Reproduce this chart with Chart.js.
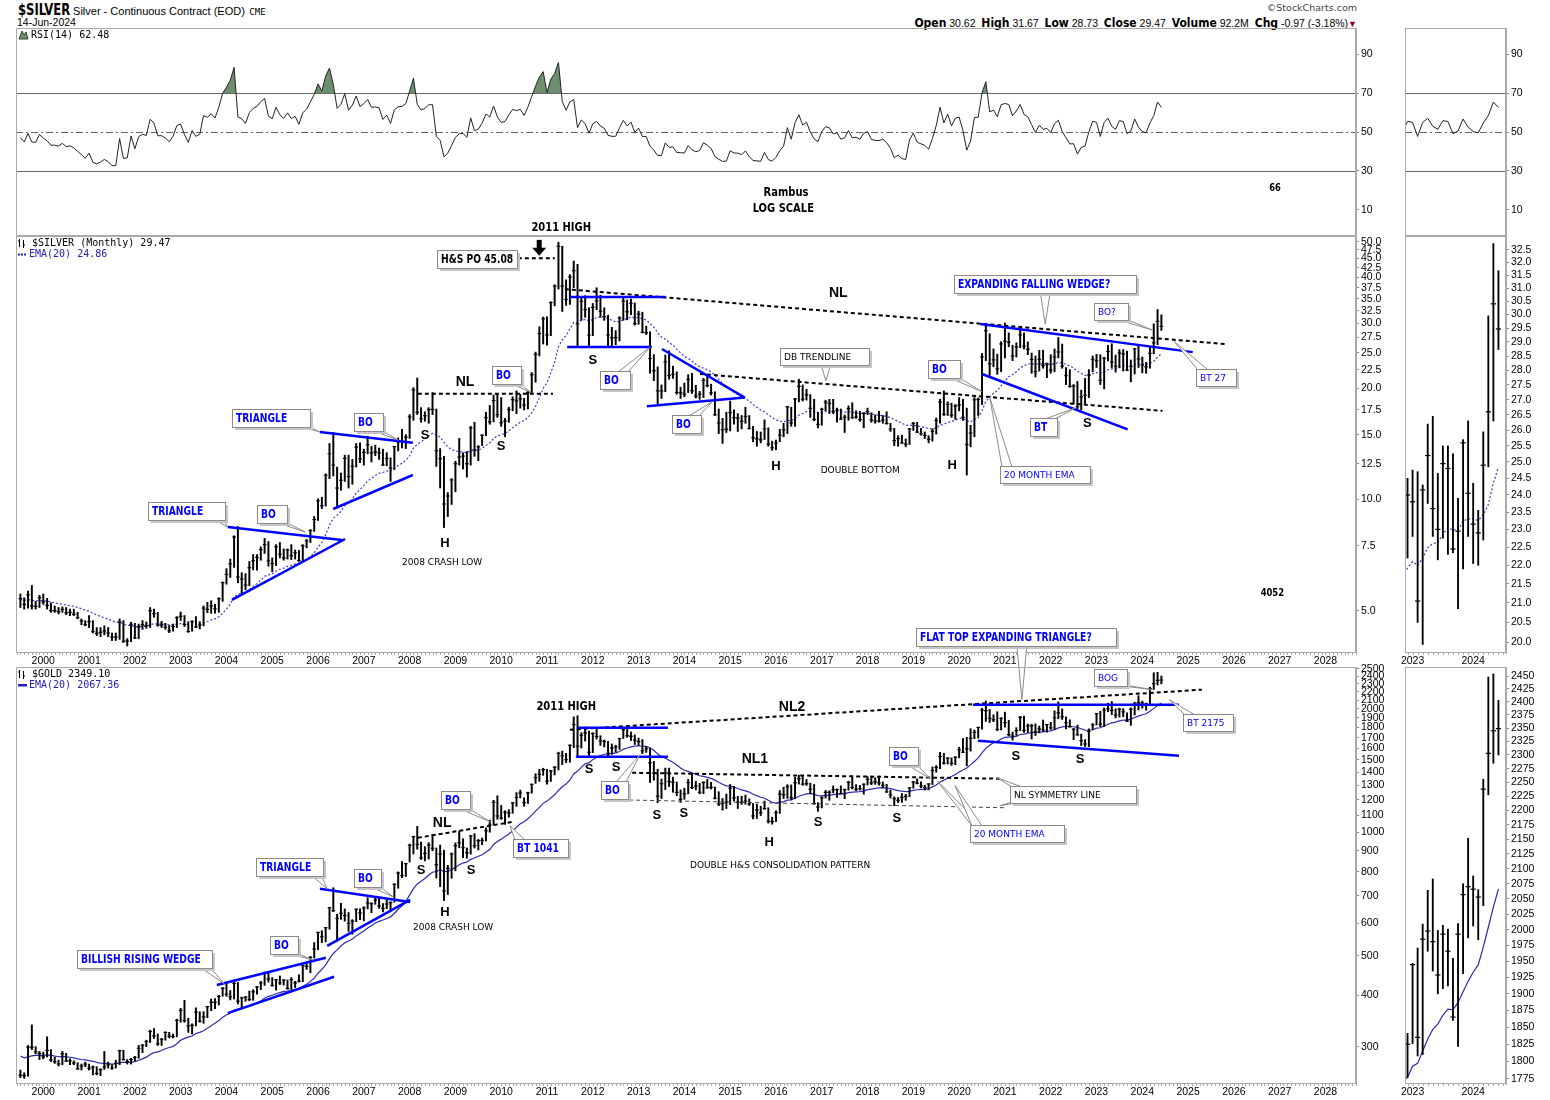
<!DOCTYPE html>
<html>
<head>
<meta charset="utf-8">
<title>$SILVER / $GOLD monthly</title>
<script src="https://cdn.jsdelivr.net/npm/chart.js@4.4.1/dist/chart.umd.min.js"></script>
<style>
  body { margin: 0; background: #fff; }
  #page { position: relative; width: 1550px; height: 1100px; overflow: hidden; font-family: 'Liberation Sans', Arial, sans-serif; }
  canvas { position: absolute; }
  .t { position: absolute; white-space: nowrap; color: #000; }
  .nar { display: inline-block; transform: scaleX(0.86); transform-origin: left center; }
  .q b { font: bold 12px 'Liberation Sans Narrow', 'DejaVu Sans Condensed', sans-serif; }
</style>
</head>
<body>
<div id="page">
  <div class="t" style="left:18px;top:1px"><span class="nar" style="font:bold 15px 'Liberation Sans Narrow','DejaVu Sans Condensed',sans-serif;width:52px">$SILVER</span><span style="font:11px 'Liberation Sans',Arial"> Silver - Continuous Contract (EOD)</span> <span style="font:9px 'DejaVu Sans Mono',monospace">CME</span></div>
  <div class="t" style="left:17px;top:16px;font:10.5px 'Liberation Sans',Arial">14-Jun-2024</div>
  <div class="t" style="right:193px;top:2px;font:9.5px 'DejaVu Sans',sans-serif;color:#444">&copy;StockCharts.com</div>
  <div class="t q" style="right:193px;top:16px;font:10.5px 'Liberation Sans',Arial"><b>Open</b> 30.62&nbsp; <b>High</b> 31.67&nbsp; <b>Low</b> 28.73&nbsp; <b>Close</b> 29.47&nbsp; <b>Volume</b> 92.2M&nbsp; <b>Chg</b> -0.97 (-3.18%)<span style="color:#8b0030;font-size:9px">&#9660;</span></div>

  <canvas id="rsiMain" width="1384" height="208" style="left:16px;top:28px"></canvas>
  <canvas id="rsiZoom" width="155" height="208" style="left:1395px;top:28px"></canvas>
  <canvas id="silverMain" width="1384" height="449" style="left:16px;top:218px"></canvas>
  <canvas id="silverZoom" width="155" height="431" style="left:1395px;top:236px"></canvas>
  <canvas id="goldMain" width="1384" height="480" style="left:16px;top:620px"></canvas>
  <canvas id="goldZoom" width="155" height="433" style="left:1395px;top:667px"></canvas>
</div>
<script>
// monthly bars, Jul 1999 .. Jun 2024 (first value = Jul 1999)
// warm-up closes Jan 1998 .. Jun 1999, only used to seed RSI / EMA
const silverPrior = [5.80, 6.14, 6.40, 6.22, 5.38, 5.51, 5.46, 4.90, 5.21, 4.89, 5.00, 5.00, 5.17, 5.55, 5.03, 5.30, 4.92, 5.22];
const goldPrior = [304, 297, 301, 310, 294, 297, 289, 273, 294, 292, 295, 288, 287, 288, 280, 287, 268, 261];

const silverHigh = [
  5.55, 5.42, 5.65, 5.85, 5.30, 5.50,
  5.55, 5.40, 5.25, 5.15, 5.10, 5.12, 5.10, 5.05, 5.05, 4.95, 4.75, 4.70,
  4.85, 4.70, 4.50, 4.50, 4.55, 4.50, 4.35, 4.35, 4.75, 4.70, 4.20, 4.65,
  4.62, 4.60, 4.70, 4.66, 5.10, 5.05, 4.95, 4.68, 4.62, 4.56, 4.60, 4.82,
  4.96, 4.85, 4.67, 4.70, 4.82, 4.67, 5.15, 5.27, 5.32, 5.20, 5.42, 5.98,
  6.50, 6.90, 7.98, 8.45, 6.34, 6.30, 6.80, 7.10, 7.10, 7.45, 7.85, 7.70,
  6.95, 7.55, 7.65, 7.35, 7.35, 7.55, 7.30, 7.28, 7.55, 7.80, 8.30, 9.00,
  10.05, 10.15, 11.75, 14.20, 15.20, 12.25, 11.80, 13.20, 13.20, 12.85, 14.20, 14.25,
  13.70, 14.85, 13.95, 14.05, 13.80, 13.70, 13.40, 12.98, 13.95, 14.70, 15.50, 15.00,
  17.00, 20.10, 21.35, 17.75, 17.30, 17.75, 19.50, 17.60, 13.75, 13.10, 10.45, 11.40,
  12.70, 14.65, 13.40, 13.50, 15.80, 16.20, 14.00, 15.00, 17.25, 18.00, 19.20, 19.30,
  18.90, 16.60, 17.80, 19.00, 19.70, 19.30, 18.80, 19.60, 22.10, 25.10, 29.40, 31.25,
  31.30, 34.35, 38.20, 49.80, 48.60, 39.40, 40.70, 44.30, 43.40, 35.50, 35.70, 33.10,
  34.00, 37.50, 35.80, 33.10, 31.60, 29.30, 28.70, 31.30, 35.40, 34.75, 34.95, 34.10,
  32.40, 32.20, 29.50, 28.50, 24.70, 22.90, 20.45, 24.65, 25.30, 23.00, 22.20, 20.15,
  20.70, 21.80, 22.00, 20.40, 19.65, 21.30, 21.60, 20.55, 19.60, 17.60, 16.60, 17.25,
  18.50, 17.50, 17.10, 16.90, 17.80, 16.90, 15.80, 15.30, 15.25, 16.45, 15.65, 14.40,
  14.50, 15.50, 16.10, 17.90, 17.80, 18.80, 21.20, 20.45, 19.90, 19.25, 18.70, 17.25,
  17.70, 18.60, 18.70, 18.70, 17.70, 17.60, 16.95, 17.95, 18.30, 17.40, 17.35, 17.20,
  17.70, 17.20, 16.95, 17.35, 16.90, 17.30, 16.10, 15.60, 14.90, 14.95, 14.60, 15.60,
  16.20, 16.20, 15.60, 15.25, 14.90, 15.55, 16.65, 18.70, 19.70, 18.40, 18.25, 18.10,
  18.90, 18.70, 17.70, 15.90, 18.90, 18.85, 24.90, 29.90, 28.15, 25.60, 24.80, 26.80,
  30.10, 28.30, 26.20, 26.60, 28.75, 28.30, 26.75, 24.95, 24.50, 25.40, 25.40, 23.45,
  24.70, 25.60, 27.50, 26.40, 22.80, 22.50, 20.50, 20.90, 19.80, 21.30, 22.50, 24.50,
  24.75, 24.70, 24.30, 26.20, 26.45, 24.65, 25.50, 25.50, 25.25, 23.90, 25.70, 26.30,
  24.35, 23.55, 25.95, 29.95, 32.75, 31.67
];
const silverLow = [
  5.10, 5.05, 5.08, 5.05, 5.05, 5.10,
  5.20, 5.05, 4.95, 4.95, 4.90, 4.95, 4.88, 4.85, 4.85, 4.75, 4.58, 4.55,
  4.50, 4.35, 4.28, 4.25, 4.30, 4.25, 4.15, 4.15, 4.18, 4.10, 4.01, 4.12,
  4.20, 4.20, 4.45, 4.48, 4.50, 4.80, 4.54, 4.50, 4.45, 4.36, 4.40, 4.50,
  4.70, 4.53, 4.37, 4.40, 4.50, 4.46, 4.55, 4.94, 4.92, 4.92, 4.95, 5.30,
  5.90, 6.15, 6.55, 5.95, 5.55, 5.70, 5.84, 6.45, 6.44, 6.85, 7.15, 6.60,
  6.38, 6.62, 6.95, 6.85, 6.90, 6.88, 6.90, 6.80, 6.80, 7.40, 7.65, 8.20,
  8.78, 9.45, 9.60, 11.40, 11.60, 9.50, 10.60, 11.20, 10.75, 11.00, 12.25, 12.60,
  12.40, 13.30, 12.65, 13.15, 12.85, 12.40, 12.35, 11.20, 12.05, 13.55, 13.80, 13.75,
  14.65, 16.40, 17.00, 16.20, 16.30, 16.10, 17.00, 12.30, 10.75, 8.40, 9.00, 9.70,
  10.50, 12.40, 12.10, 11.50, 12.40, 13.10, 12.75, 14.00, 14.90, 16.00, 16.25, 16.70,
  15.80, 14.80, 16.20, 17.40, 17.10, 17.70, 17.50, 17.60, 19.50, 20.80, 24.50, 26.40,
  26.20, 27.80, 33.50, 37.20, 32.35, 33.60, 33.80, 37.50, 26.10, 30.60, 31.20, 26.15,
  27.80, 32.70, 31.20, 30.60, 26.10, 26.10, 26.30, 26.90, 30.60, 30.70, 31.70, 29.70,
  29.85, 28.30, 28.00, 22.00, 21.00, 18.20, 18.80, 19.60, 21.20, 21.30, 19.30, 18.80,
  19.00, 19.50, 19.40, 18.85, 18.70, 18.90, 20.20, 19.20, 16.90, 15.10, 14.20, 15.20,
  15.35, 16.00, 15.30, 15.55, 16.10, 15.55, 14.35, 13.95, 14.25, 14.55, 13.95, 13.60,
  13.65, 14.35, 14.80, 15.10, 15.80, 15.80, 18.40, 18.50, 18.60, 16.70, 16.35, 15.64,
  15.90, 17.40, 17.10, 17.10, 16.20, 16.50, 15.20, 16.40, 16.60, 16.60, 16.30, 15.65,
  17.00, 16.20, 16.10, 16.20, 16.10, 16.00, 15.30, 14.00, 13.95, 14.20, 13.90, 14.10,
  15.40, 15.20, 14.95, 14.65, 14.25, 14.40, 15.05, 16.10, 16.90, 16.90, 16.70, 16.50,
  17.40, 16.40, 11.65, 13.90, 14.80, 16.90, 18.10, 23.80, 21.70, 22.90, 21.85, 22.20,
  24.20, 25.95, 23.80, 24.35, 25.80, 25.60, 24.70, 22.00, 21.50, 22.30, 22.70, 21.40,
  22.00, 22.20, 24.20, 22.70, 20.50, 20.15, 18.15, 17.55, 17.50, 18.10, 18.90, 22.20,
  22.80, 20.50, 19.95, 23.75, 22.80, 22.15, 22.75, 22.30, 22.35, 20.85, 21.90, 22.80,
  22.05, 22.00, 22.70, 24.85, 26.30, 28.73
];
const silverClose = [
  5.39, 5.20, 5.52, 5.15, 5.14, 5.42,
  5.28, 5.17, 5.00, 5.00, 4.97, 5.04, 4.93, 4.95, 4.89, 4.79, 4.69, 4.58,
  4.67, 4.39, 4.34, 4.37, 4.41, 4.35, 4.24, 4.24, 4.66, 4.13, 4.14, 4.59,
  4.22, 4.52, 4.58, 4.55, 5.00, 4.91, 4.57, 4.57, 4.51, 4.41, 4.53, 4.79,
  4.83, 4.59, 4.39, 4.67, 4.52, 4.57, 5.08, 5.04, 5.15, 5.06, 5.39, 5.96,
  6.27, 6.70, 7.92, 6.17, 6.09, 5.87, 6.54, 6.83, 6.97, 7.32, 7.55, 6.82,
  6.71, 7.45, 7.12, 6.95, 7.30, 7.05, 7.18, 6.84, 7.50, 7.73, 8.24, 8.83,
  9.92, 9.62, 11.64, 13.31, 12.40, 10.75, 11.28, 12.93, 11.55, 12.31, 13.88, 12.90,
  13.42, 14.08, 13.39, 13.47, 13.38, 12.40, 12.93, 12.18, 13.92, 14.33, 14.39, 14.76,
  16.76, 19.82, 17.24, 16.57, 16.88, 17.53, 17.56, 13.57, 12.91, 9.73, 10.23, 11.30,
  12.51, 13.04, 13.12, 12.51, 15.63, 13.64, 13.90, 14.94, 16.67, 16.25, 18.55, 16.99,
  16.16, 16.33, 17.55, 18.66, 18.51, 18.74, 18.04, 19.53, 21.79, 24.75, 28.19, 30.91,
  27.94, 34.21, 37.87, 48.60, 37.93, 34.86, 40.11, 41.70, 29.95, 34.47, 32.73, 27.90,
  33.19, 34.54, 32.39, 31.32, 27.95, 27.45, 27.48, 31.04, 34.49, 32.29, 34.05, 30.00,
  31.83, 28.40, 28.33, 24.12, 22.35, 19.72, 19.70, 23.61, 21.69, 21.86, 19.51, 19.47,
  19.32, 21.16, 19.72, 19.07, 19.31, 21.03, 20.37, 19.46, 16.98, 16.14, 15.47, 15.51,
  17.21, 16.67, 16.63, 16.29, 16.80, 15.58, 14.71, 14.61, 14.52, 15.55, 14.15, 13.82,
  14.24, 14.96, 15.46, 17.84, 16.13, 18.74, 20.27, 18.72, 19.23, 17.68, 16.50, 15.99,
  17.56, 18.38, 18.22, 17.31, 17.48, 16.53, 16.72, 17.64, 16.66, 16.74, 16.47, 17.14,
  17.32, 16.44, 16.33, 16.31, 16.43, 16.09, 15.53, 14.45, 14.63, 14.24, 14.14, 15.54,
  16.08, 15.24, 15.08, 14.93, 14.58, 15.32, 16.38, 18.37, 17.02, 18.11, 16.95, 17.92,
  18.06, 16.71, 14.10, 15.15, 18.63, 18.69, 24.35, 28.67, 23.36, 23.93, 22.61, 26.41,
  26.86, 26.68, 24.51, 25.92, 27.96, 26.06, 25.55, 23.98, 22.23, 24.00, 23.08, 23.31,
  22.44, 24.36, 25.13, 23.01, 21.67, 20.27, 20.31, 17.85, 19.00, 19.17, 21.76, 24.00,
  23.80, 21.05, 24.15, 25.20, 23.60, 23.00, 24.95, 24.80, 22.45, 22.95, 25.60, 24.05,
  23.15, 22.90, 24.90, 26.60, 30.40, 29.47
];

const goldHigh = [
  263, 259, 302, 339, 300, 292,
  291, 317, 295, 283, 278, 292, 289, 280, 277, 274, 272, 275,
  272, 269, 268, 265, 292, 275, 271, 278, 294, 294, 279, 281,
  284, 302, 304, 311, 329, 332, 322, 314, 326, 325, 322, 350,
  372, 389, 352, 341, 373, 365, 365, 376, 392, 393, 400, 418,
  428, 411, 430, 430, 396, 398, 410, 413, 420, 433, 456, 456,
  442, 438, 446, 437, 436, 442, 433, 449, 474, 478, 497, 538,
  571, 575, 586, 655, 732, 631, 671, 650, 637, 612, 650, 650,
  658, 692, 673, 694, 690, 670, 683, 677, 749, 800, 848, 840,
  936, 978, 1033, 946, 922, 943, 988, 915, 930, 904, 830, 890,
  942, 1006, 964, 915, 982, 992, 960, 968, 1025, 1070, 1196, 1227,
  1162, 1128, 1135, 1180, 1249, 1266, 1213, 1252, 1310, 1388, 1424, 1432,
  1424, 1415, 1447, 1567, 1577, 1557, 1633, 1911, 1923, 1748, 1804, 1764,
  1747, 1792, 1719, 1678, 1666, 1641, 1630, 1694, 1788, 1798, 1755, 1726,
  1696, 1682, 1617, 1604, 1488, 1424, 1348, 1433, 1433, 1362, 1325, 1268,
  1280, 1345, 1392, 1331, 1315, 1327, 1345, 1323, 1289, 1255, 1208, 1239,
  1307, 1294, 1223, 1224, 1232, 1205, 1175, 1170, 1157, 1191, 1147, 1088,
  1128, 1263, 1287, 1306, 1304, 1362, 1377, 1375, 1344, 1317, 1307, 1180,
  1221, 1264, 1262, 1297, 1276, 1297, 1274, 1331, 1362, 1306, 1300, 1311,
  1366, 1365, 1357, 1370, 1326, 1309, 1266, 1220, 1215, 1243, 1237, 1285,
  1331, 1349, 1327, 1302, 1312, 1442, 1453, 1565, 1557, 1521, 1518, 1527,
  1611, 1692, 1704, 1788, 1775, 1802, 2005, 2089, 1992, 1933, 1966, 1901,
  1962, 1875, 1755, 1798, 1917, 1919, 1836, 1834, 1837, 1815, 1877, 1831,
  1853, 1976, 2078, 1998, 1910, 1879, 1791, 1824, 1735, 1682, 1786, 1841,
  1947, 1971, 2009, 2064, 2083, 1999, 2007, 2001, 1955, 2010, 2075, 2152,
  2088, 2065, 2256, 2448, 2454, 2403
];
const goldLow = [
  252, 251, 254, 295, 288, 279,
  280, 283, 276, 273, 269, 271, 276, 271, 271, 264, 263, 268,
  263, 256, 256, 255, 264, 266, 264, 266, 271, 278, 272, 272,
  277, 281, 290, 300, 307, 314, 302, 302, 311, 315, 315, 317,
  344, 344, 325, 322, 337, 344, 342, 353, 367, 371, 379, 398,
  398, 390, 392, 381, 372, 387, 388, 389, 403, 413, 423, 431,
  421, 412, 425, 424, 414, 414, 418, 431, 432, 463, 454, 493,
  517, 538, 540, 580, 640, 543, 613, 607, 573, 564, 605, 612,
  608, 650, 636, 667, 652, 639, 651, 642, 675, 730, 775, 780,
  846, 885, 909, 858, 851, 860, 901, 773, 737, 681, 705, 772,
  805, 916, 866, 864, 884, 915, 905, 932, 951, 1000, 1041, 1075,
  1075, 1045, 1088, 1112, 1156, 1212, 1157, 1175, 1245, 1315, 1330, 1376,
  1309, 1330, 1379, 1418, 1462, 1478, 1481, 1606, 1535, 1604, 1668, 1523,
  1563, 1687, 1627, 1613, 1527, 1549, 1568, 1591, 1691, 1703, 1672, 1636,
  1627, 1554, 1565, 1322, 1339, 1180, 1208, 1270, 1292, 1251, 1227, 1182,
  1203, 1240, 1277, 1268, 1240, 1241, 1282, 1274, 1205, 1161, 1132, 1142,
  1167, 1191, 1142, 1169, 1170, 1162, 1077, 1080, 1098, 1137, 1052, 1046,
  1061, 1111, 1208, 1209, 1199, 1207, 1310, 1301, 1300, 1241, 1171, 1124,
  1146, 1211, 1196, 1247, 1216, 1242, 1207, 1266, 1274, 1263, 1267, 1238,
  1303, 1306, 1308, 1302, 1283, 1251, 1211, 1160, 1180, 1182, 1196, 1221,
  1280, 1311, 1283, 1267, 1268, 1307, 1400, 1428, 1465, 1466, 1455, 1461,
  1518, 1565, 1452, 1576, 1690, 1697, 1783, 1862, 1851, 1860, 1767, 1775,
  1803, 1717, 1676, 1721, 1769, 1750, 1750, 1688, 1721, 1746, 1761, 1753,
  1780, 1781, 1890, 1883, 1786, 1805, 1681, 1727, 1626, 1618, 1616, 1777,
  1826, 1808, 1810, 1966, 1935, 1900, 1908, 1912, 1860, 1822, 1931, 1987,
  2006, 1984, 2039, 2228, 2285, 2300
];
const goldClose = [
  255.6, 254.8, 299.0, 299.1, 291.4, 288.7,
  283.3, 293.7, 278.4, 275.6, 272.3, 288.2, 276.8, 277.0, 273.7, 264.7, 269.1, 272.0,
  265.6, 267.5, 258.0, 263.6, 267.5, 270.6, 265.9, 273.0, 293.1, 279.0, 275.5, 279.0,
  282.3, 297.0, 302.0, 308.6, 326.6, 318.5, 304.7, 312.8, 324.9, 318.2, 317.4, 347.6,
  367.7, 347.2, 336.9, 338.0, 363.9, 346.0, 354.4, 375.6, 385.0, 384.8, 397.5, 416.1,
  402.8, 396.8, 427.7, 387.2, 394.3, 395.8, 390.9, 408.2, 419.4, 428.8, 452.4, 438.4,
  422.8, 436.8, 429.4, 435.7, 416.0, 437.1, 429.0, 433.3, 473.3, 470.8, 495.7, 518.9,
  569.4, 556.0, 585.0, 654.5, 643.8, 616.0, 634.2, 626.2, 599.3, 607.0, 648.6, 635.7,
  653.5, 672.0, 669.0, 683.5, 660.8, 651.9, 668.2, 673.4, 746.0, 795.3, 783.5, 838.0,
  928.4, 975.0, 933.5, 865.1, 887.4, 930.3, 913.9, 833.0, 884.5, 718.8, 816.2, 884.3,
  927.3, 942.5, 916.5, 891.2, 978.8, 927.4, 953.7, 955.1, 1008.2, 1040.4, 1182.3, 1096.2,
  1083.0, 1118.9, 1113.3, 1179.2, 1215.0, 1245.6, 1180.8, 1247.4, 1308.3, 1359.0, 1384.5, 1421.1,
  1332.8, 1411.1, 1439.0, 1556.0, 1536.6, 1502.3, 1628.3, 1829.8, 1620.4, 1724.0, 1746.4, 1566.8,
  1740.2, 1711.3, 1669.3, 1664.0, 1558.0, 1604.2, 1614.1, 1692.6, 1776.1, 1719.1, 1713.5, 1675.8,
  1663.0, 1578.8, 1597.7, 1476.1, 1392.6, 1223.7, 1313.0, 1394.6, 1328.1, 1323.6, 1250.6, 1202.3,
  1240.1, 1321.4, 1283.8, 1295.9, 1250.5, 1322.0, 1282.5, 1286.7, 1210.5, 1171.6, 1175.4, 1184.1,
  1279.2, 1212.6, 1183.1, 1182.4, 1189.7, 1171.6, 1095.3, 1132.3, 1115.2, 1141.4, 1064.4, 1061.1,
  1116.4, 1238.3, 1234.2, 1290.5, 1214.3, 1320.0, 1350.5, 1308.8, 1313.3, 1272.6, 1173.9, 1152.0,
  1212.8, 1250.5, 1251.2, 1268.3, 1269.4, 1242.3, 1269.9, 1322.2, 1284.8, 1271.1, 1275.9, 1309.3,
  1345.1, 1318.6, 1327.3, 1318.7, 1300.6, 1253.5, 1232.6, 1206.7, 1196.2, 1215.0, 1222.3, 1282.5,
  1325.2, 1316.1, 1295.4, 1285.7, 1311.1, 1413.7, 1437.8, 1529.4, 1472.9, 1514.8, 1473.2, 1523.1,
  1587.9, 1566.7, 1596.6, 1694.2, 1751.7, 1800.5, 1985.9, 1978.6, 1895.5, 1879.9, 1780.9, 1895.1,
  1850.3, 1728.8, 1715.6, 1769.1, 1905.3, 1771.6, 1817.2, 1818.1, 1757.0, 1784.9, 1776.5, 1829.7,
  1797.0, 1900.7, 1954.0, 1911.7, 1848.4, 1807.3, 1781.8, 1726.2, 1672.0, 1640.7, 1759.9, 1825.0,
  1945.0, 1835.0, 1985.0, 1998.0, 1981.0, 1929.0, 1993.0, 1966.0, 1865.0, 1993.0, 2057.0, 2070.0,
  2066.0, 2053.0, 2238.0, 2303.0, 2345.0, 2349.1
];

// axis tick labels
const yearTicks = [2000, 2001, 2002, 2003, 2004, 2005, 2006, 2007, 2008, 2009, 2010, 2011, 2012, 2013, 2014,
  2015, 2016, 2017, 2018, 2019, 2020, 2021, 2022, 2023, 2024, 2025, 2026, 2027, 2028];
const zoomYears = [2023, 2024];
const rsiTicks = [10, 30, 50, 70, 90];
const silverTicks = [5, 7.5, 10, 12.5, 15, 17.5, 20, 22.5, 25, 27.5, 30, 32.5, 35, 37.5, 40, 42.5, 45, 47.5, 50];
const goldTicks = [300, 400, 500, 600, 700, 800, 900, 1000, 1100, 1200, 1300, 1400, 1500, 1600, 1700, 1800,
  1900, 2000, 2100, 2200, 2300, 2400, 2500];
const silverZoomTicks = [20, 20.5, 21, 21.5, 22, 22.5, 23, 23.5, 24, 24.5, 25, 25.5, 26, 26.5, 27, 27.5,
  28, 28.5, 29, 29.5, 30, 30.5, 31, 31.5, 32, 32.5];
const goldZoomTicks = [1775, 1800, 1825, 1850, 1875, 1900, 1925, 1950, 1975, 2000, 2025, 2050, 2075, 2100,
  2125, 2150, 2175, 2200, 2225, 2250, 2275, 2300, 2325, 2350, 2375, 2400, 2425, 2450];

const NARROW = "'Liberation Sans Narrow','DejaVu Sans Condensed','Arial Narrow',sans-serif";
const SANS = "'Liberation Sans',Arial,sans-serif";
const DEJA = "'DejaVu Sans',sans-serif";
const MONO = "'DejaVu Sans Mono',monospace";
const BLUE = '#0000ff';
const SQUEEZE = 0.85; // condensed bold labels are drawn a little narrower
const F_BOX = 'bold 12px ' + NARROW;
const F_REG = '9px ' + DEJA;
const F_HS = 'bold 13px ' + SANS;
const F_NL = 'bold 14px ' + SANS;
const F_TTL = 'bold 13px ' + NARROW;

Chart.defaults.font.family = SANS;
Chart.defaults.color = '#000';

// indicators
function ema(v, n) {
  const k = 2 / (n + 1);
  let e = v[0];
  return v.map((x, i) => (i === 0 ? e : (e = x * k + e * (1 - k))));
}
function rsi(v, n) {
  const out = [null];
  let g = 0, l = 0;
  for (let i = 1; i < v.length; i++) {
    const d = v[i] - v[i - 1];
    const up = Math.max(d, 0), dn = Math.max(-d, 0);
    if (i <= n) { g += up / n; l += dn / n; }
    else { g = (g * (n - 1) + up) / n; l = (l * (n - 1) + dn) / n; }
    out.push(i < n ? null : 100 - 100 / (1 + g / (l || 1e-9)));
  }
  return out;
}
const silverEma = ema(silverPrior.concat(silverClose), 20).slice(silverPrior.length);
const goldEma = ema(goldPrior.concat(goldClose), 20).slice(goldPrior.length);
const silverRsi = rsi(silverPrior.concat(silverClose), 14).slice(silverPrior.length);

// month index: 0 = Jan 2000, first bar (Jul 1999) = -6
const START = -6;
const at = arr => arr.map((v, i) => ({ x: START + i, y: v }));
const span = (hi, lo) => hi.map((v, i) => ({ x: START + i, y: [lo[i], v] }));

// hand-drawn annotations, [decimal year, value]
const rsiNotes = [
  { t: 'text', at: [2016.22, 18.6], s: 'Rambus', f: F_TTL },
  { t: 'text', at: [2016.16, 10.4], s: 'LOG SCALE', f: F_TTL },
  { t: 'text', at: [2026.90, 21.2], s: '66', f: 'bold 11px ' + NARROW }
];
const silverNotes = [
  { t: 'line', a: [2010.21, 45.08], b: [2011.17, 45.08], c: '#000', w: 2, d: [4, 3] },
  { t: 'line', a: [2011.39, 37.2], b: [2025.80, 26.4], c: '#000', w: 2, d: [4, 3] },
  { t: 'line', a: [2008.18, 19.35], b: [2011.13, 19.35], c: '#000', w: 2, d: [4, 3] },
  { t: 'line', a: [2014.34, 21.9], b: [2024.44, 17.4], c: '#000', w: 2, d: [4, 3] },
  { t: 'line', a: [2011.50, 35.4], b: [2013.58, 35.4], c: BLUE, w: 2.5 },
  { t: 'line', a: [2011.44, 25.9], b: [2013.29, 25.9], c: BLUE, w: 2.5 },
  { t: 'line', a: [2013.51, 25.6], b: [2015.32, 18.9], c: BLUE, w: 2.5 },
  { t: 'line', a: [2013.18, 17.9], b: [2015.32, 18.9], c: BLUE, w: 2.5 },
  { t: 'line', a: [2006.04, 15.25], b: [2008.07, 14.25], c: BLUE, w: 2.5 },
  { t: 'line', a: [2006.33, 9.43], b: [2008.07, 11.66], c: BLUE, w: 2.5 },
  { t: 'line', a: [2004.03, 8.43], b: [2006.52, 7.77], c: BLUE, w: 2.5 },
  { t: 'line', a: [2004.12, 5.35], b: [2006.59, 7.82], c: BLUE, w: 2.5 },
  { t: 'line', a: [2020.46, 29.9], b: [2025.10, 25.1], c: BLUE, w: 2.5 },
  { t: 'line', a: [2020.50, 21.9], b: [2023.68, 15.5], c: BLUE, w: 2.5 },
  { t: 'arrow', at: [2010.83, 45.76] },
  { t: 'text', at: [2011.31, 54.5], s: '2011 HIGH', f: F_TTL },
  { t: 'text', at: [2017.36, 36.3], s: 'NL', f: F_NL },
  { t: 'text', at: [2009.21, 20.85], s: 'NL', f: F_NL },
  { t: 'text', at: [2008.34, 14.9], s: 'S' },
  { t: 'text', at: [2008.77, 7.63], s: 'H' },
  { t: 'text', at: [2010.00, 13.9], s: 'S' },
  { t: 'text', at: [2008.71, 6.73], s: '2008 CRASH LOW', f: F_REG },
  { t: 'text', at: [2012.00, 23.9], s: 'S' },
  { t: 'text', at: [2016.00, 12.3], s: 'H' },
  { t: 'text', at: [2017.84, 11.96], s: 'DOUBLE BOTTOM', f: F_REG },
  { t: 'text', at: [2019.85, 12.4], s: 'H' },
  { t: 'text', at: [2022.80, 16.1], s: 'S' },
  { t: 'text', at: [2026.84, 5.58], s: '4052', f: 'bold 11px ' + NARROW },
  { t: 'box', at: [2008.60, 47.5], s: 'H&S PO 45.08', w: 80, c: '#000' },
  { t: 'box', at: [2002.29, 9.86], s: 'TRIANGLE', w: 77, to: [[2004.03, 8.43]] },
  { t: 'box', at: [2004.67, 9.67], s: 'BO', w: 30, to: [[2005.72, 8.17]] },
  { t: 'box', at: [2004.12, 17.6], s: 'TRIANGLE', w: 78, to: [[2006.04, 15.25]] },
  { t: 'box', at: [2006.79, 17.2], s: 'BO', w: 29, to: [[2007.75, 14.5]] },
  { t: 'box', at: [2009.80, 23.0], s: 'BO', w: 29, to: [[2010.63, 19.6]] },
  { t: 'box', at: [2012.16, 22.3], s: 'BO', w: 30, to: [[2013.25, 25.9]] },
  { t: 'box', at: [2013.73, 17.0], s: 'BO', w: 29, to: [[2014.60, 18.4]] },
  { t: 'box', at: [2016.09, 25.8], s: 'DB TRENDLINE', w: 89, c: '#000', f: F_REG, h: 17, to: [[2017.09, 21.0]] },
  { t: 'box', at: [2019.32, 23.9], s: 'BO', w: 32, to: [[2020.50, 19.6]] },
  { t: 'box', at: [2020.89, 12.3], s: '20 MONTH EMA', w: 90, f: F_REG, h: 17, to: [[2020.67, 18.9]] },
  { t: 'box', at: [2019.89, 40.6], s: 'EXPANDING FALLING WEDGE?', w: 182, to: [[2021.88, 29.9]] },
  { t: 'box', at: [2022.94, 34.1], s: 'BO?', w: 34, f: F_REG, h: 17, to: [[2024.22, 28.8]] },
  { t: 'box', at: [2025.18, 22.6], s: 'BT 27', w: 40, f: F_REG, h: 17, to: [[2024.70, 26.8]] },
  { t: 'box', at: [2021.55, 16.65], s: 'BT', w: 27, to: [[2022.53, 17.7]] }
];
const goldNotes = [
  { t: 'line', a: [2011.50, 1778], b: [2025.30, 2226], c: '#000', w: 2, d: [4, 3] },
  { t: 'line', a: [2011.68, 1798], b: [2013.64, 1798], c: BLUE, w: 2.5 },
  { t: 'line', a: [2011.63, 1528], b: [2013.64, 1528], c: BLUE, w: 2.5 },
  { t: 'line', a: [2012.86, 1396], b: [2020.89, 1350], c: '#000', w: 2, d: [4, 3] },
  { t: 'line', a: [2012.64, 1199], b: [2021.00, 1147], c: '#444', w: 1, d: [4, 3] },
  { t: 'line', a: [2020.30, 2046], b: [2024.80, 2046], c: BLUE, w: 2.5 },
  { t: 'line', a: [2020.41, 1671], b: [2024.80, 1536], c: BLUE, w: 2.5 },
  { t: 'line', a: [2008.18, 969], b: [2010.26, 1060], c: '#000', w: 2, d: [4, 3] },
  { t: 'line', a: [2006.04, 728], b: [2008.01, 676], c: BLUE, w: 2.5 },
  { t: 'line', a: [2006.20, 528], b: [2008.01, 684], c: BLUE, w: 2.5 },
  { t: 'line', a: [2003.79, 424], b: [2006.17, 494], c: BLUE, w: 2.5 },
  { t: 'line', a: [2004.03, 362], b: [2006.35, 444], c: BLUE, w: 2.5 },
  { t: 'text', at: [2011.42, 2022], s: '2011 HIGH', f: F_TTL },
  { t: 'text', at: [2016.35, 2022], s: 'NL2', f: F_NL },
  { t: 'text', at: [2015.54, 1510], s: 'NL1', f: F_NL },
  { t: 'text', at: [2008.71, 1054], s: 'NL', f: F_NL },
  { t: 'text', at: [2008.25, 805], s: 'S' },
  { t: 'text', at: [2008.77, 636], s: 'H' },
  { t: 'text', at: [2009.34, 805], s: 'S' },
  { t: 'text', at: [2008.95, 584], s: '2008 CRASH LOW', f: F_REG },
  { t: 'text', at: [2011.92, 1420], s: 'S' },
  { t: 'text', at: [2012.51, 1436], s: 'S' },
  { t: 'text', at: [2013.40, 1097], s: 'S' },
  { t: 'text', at: [2013.99, 1109], s: 'S' },
  { t: 'text', at: [2015.85, 942], s: 'H' },
  { t: 'text', at: [2016.92, 1054], s: 'S' },
  { t: 'text', at: [2018.64, 1078], s: 'S' },
  { t: 'text', at: [2021.24, 1528], s: 'S' },
  { t: 'text', at: [2022.64, 1502], s: 'S' },
  { t: 'text', at: [2016.09, 828], s: 'DOUBLE H&S CONSOLIDATION PATTERN', f: F_REG },
  { t: 'box', at: [2000.74, 516], s: 'BILLISH RISING WEDGE', w: 135, to: [[2003.95, 427]] },
  { t: 'box', at: [2004.95, 559], s: 'BO', w: 28, to: [[2005.89, 488]] },
  { t: 'box', at: [2004.65, 866], s: 'TRIANGLE', w: 67, to: [[2006.20, 728]] },
  { t: 'box', at: [2006.79, 814], s: 'BO', w: 27, to: [[2007.64, 696]] },
  { t: 'box', at: [2008.69, 1262], s: 'BO', w: 29, to: [[2009.76, 1060]] },
  { t: 'box', at: [2010.26, 964], s: 'BT 1041', w: 55, to: [[2010.19, 1037]] },
  { t: 'box', at: [2012.18, 1335], s: 'BO', w: 27, to: [[2013.03, 1545]] },
  { t: 'box', at: [2018.47, 1616], s: 'BO', w: 29, to: [[2019.37, 1350]] },
  { t: 'box', at: [2021.11, 1298], s: 'NL SYMMETRY LINE', w: 126, c: '#000', f: F_REG, h: 17, to: [[2020.83, 1358], [2020.89, 1160]] },
  { t: 'box', at: [2020.24, 1042], s: '20 MONTH EMA', w: 94, f: F_REG, h: 17, to: [[2019.52, 1335], [2019.91, 1300]] },
  { t: 'box', at: [2019.06, 3153], s: 'FLAT TOP EXPANDING TRIANGLE?', w: 200, to: [[2021.37, 2104]] },
  { t: 'box', at: [2022.94, 2505], s: 'BOG', w: 33, f: F_REG, h: 17, to: [[2024.22, 2226]] },
  { t: 'box', at: [2024.88, 1945], s: 'BT 2175', w: 50, f: F_REG, h: 17, to: [[2024.59, 2104]] }
];

// ---------- plugins ----------
function label(ctx, s, x, y, font, align) {
  ctx.font = font;
  ctx.textAlign = align; ctx.textBaseline = 'middle';
  if (font.indexOf('Narrow') >= 0) {
    ctx.save(); ctx.translate(x, y); ctx.scale(SQUEEZE, 1); ctx.fillText(s, 0, 0); ctx.restore();
  } else {
    ctx.fillText(s, x, y);
  }
}

function callout(ctx, bx, by, w, h, tx, ty) {
  let b1, b2;
  if (ty >= by + h) {
    const cx = Math.min(Math.max(tx, bx + 7), bx + w - 7);
    b1 = [cx - 5, by + h - 1]; b2 = [cx + 5, by + h - 1];
  } else if (ty <= by) {
    const cx = Math.min(Math.max(tx, bx + 7), bx + w - 7);
    b1 = [cx - 5, by + 1]; b2 = [cx + 5, by + 1];
  } else {
    const cx = tx < bx ? bx + 1 : bx + w - 1;
    b1 = [cx, by + h / 2 - 4]; b2 = [cx, by + h / 2 + 4];
  }
  ctx.beginPath();
  ctx.moveTo(b1[0], b1[1]); ctx.lineTo(tx, ty); ctx.lineTo(b2[0], b2[1]); ctx.closePath();
  ctx.fillStyle = '#fff'; ctx.fill();
  ctx.strokeStyle = '#8a8a8a'; ctx.lineWidth = 1; ctx.setLineDash([]); ctx.stroke();
}

function notes(items) {
  return {
    id: 'notes',
    afterDatasetsDraw(chart) {
      const { ctx, scales: { x, y } } = chart;
      const P = p => [x.getPixelForValue((p[0] - 2000) * 12), y.getPixelForValue(p[1])];
      ctx.save();
      for (const n of items) {
        if (n.t === 'line') {
          const a = P(n.a), b = P(n.b);
          ctx.strokeStyle = n.c; ctx.lineWidth = n.w; ctx.setLineDash(n.d || []);
          ctx.beginPath(); ctx.moveTo(a[0], a[1]); ctx.lineTo(b[0], b[1]); ctx.stroke();
        } else if (n.t === 'text') {
          const p = P(n.at);
          ctx.fillStyle = n.c || '#000';
          label(ctx, n.s, p[0], p[1], n.f || F_HS, 'center');
        } else if (n.t === 'arrow') {
          const p = P(n.at);
          ctx.fillStyle = '#000';
          ctx.fillRect(p[0] - 2.5, p[1] - 16, 5, 9);
          ctx.beginPath(); ctx.moveTo(p[0] - 7, p[1] - 8); ctx.lineTo(p[0] + 7, p[1] - 8); ctx.lineTo(p[0], p[1]); ctx.closePath(); ctx.fill();
        } else if (n.t === 'box') {
          const p = P(n.at).map(Math.round);
          const w = n.w, h = n.h || 18;
          (n.to || []).forEach(tp => { const q = P(tp); callout(ctx, p[0], p[1], w, h, q[0], q[1]); });
          ctx.setLineDash([]);
          ctx.fillStyle = '#c6c6c6'; ctx.fillRect(p[0] + 3, p[1] + 3, w, h);
          ctx.fillStyle = '#fff'; ctx.fillRect(p[0], p[1], w, h);
          ctx.strokeStyle = '#8a8a8a'; ctx.lineWidth = 1; ctx.strokeRect(p[0] + 0.5, p[1] + 0.5, w, h);
          ctx.fillStyle = n.c || BLUE;
          label(ctx, n.s, p[0] + 4, p[1] + h / 2 + 1, n.f || F_BOX, 'left');
        }
      }
      ctx.restore();
    }
  };
}

function frame(o) {
  return {
    id: 'frame',
    beforeDatasetsDraw(chart) {
      if (!o.rsi) return;
      const { ctx, chartArea: a, scales: { y } } = chart;
      ctx.save();
      ctx.strokeStyle = '#666'; ctx.lineWidth = 1;
      [70, 30].forEach(v => {
        const py = Math.round(y.getPixelForValue(v)) + 0.5;
        ctx.beginPath(); ctx.moveTo(a.left, py); ctx.lineTo(a.right, py); ctx.stroke();
      });
      const py = Math.round(y.getPixelForValue(50)) + 0.5;
      ctx.setLineDash([7, 3, 2, 3]);
      ctx.beginPath(); ctx.moveTo(a.left, py); ctx.lineTo(a.right, py); ctx.stroke();
      ctx.restore();
    },
    afterDraw(chart) {
      const { ctx, chartArea: a, scales: { x } } = chart;
      ctx.save();
      ctx.strokeStyle = '#aaa'; ctx.lineWidth = 1;
      ctx.strokeRect(a.left + 0.5, a.top + 0.5, a.width - 1, a.height - 1);
      if (o.months) {
        ctx.beginPath();
        for (let m = Math.ceil(x.min); m <= x.max; m++) {
          const px = Math.round(x.getPixelForValue(m)) + 0.5;
          ctx.moveTo(px, a.bottom); ctx.lineTo(px, a.bottom + 2);
        }
        ctx.stroke();
      }
      ctx.restore();
    }
  };
}

function caption(lines) {
  return {
    id: 'caption',
    afterDraw(chart) {
      const { ctx, chartArea: a } = chart;
      ctx.save();
      ctx.font = '10px ' + MONO; ctx.textBaseline = 'middle'; ctx.textAlign = 'left';
      lines.forEach(l => {
        const x = a.left + l.dx, y = a.top + l.dy;
        ctx.fillStyle = l.c; ctx.fillText(l.s, x, y);
        ctx.strokeStyle = l.c; ctx.fillStyle = l.c;
        if (l.icon === 'bars') {
          ctx.lineWidth = 1; ctx.beginPath();
          ctx.moveTo(x - 12.5, y - 4); ctx.lineTo(x - 12.5, y + 4); ctx.moveTo(x - 14, y - 2); ctx.lineTo(x - 12.5, y - 2);
          ctx.moveTo(x - 8.5, y - 3); ctx.lineTo(x - 8.5, y + 5); ctx.moveTo(x - 8.5, y + 2); ctx.lineTo(x - 7, y + 2);
          ctx.stroke();
        } else if (l.icon === 'dots') {
          for (let i = 0; i < 3; i++) ctx.fillRect(x - 11 + i * 3, y - 0.5, 2, 2);
        } else if (l.icon === 'solid') {
          ctx.fillRect(x - 11, y - 1, 9, 2.5);
        } else if (l.icon === 'rsi') {
          ctx.fillStyle = '#6d8f6d'; ctx.strokeStyle = '#2d4a2d'; ctx.lineWidth = 1;
          ctx.beginPath(); ctx.moveTo(x - 12, y + 4); ctx.lineTo(x - 9, y - 4); ctx.lineTo(x - 7, y); ctx.lineTo(x - 5, y - 3); ctx.lineTo(x - 3, y + 4); ctx.closePath();
          ctx.fill(); ctx.stroke();
        }
      });
      ctx.restore();
    }
  };
}

// ---------- axes ----------
function xAxis(min, max, years, h, show) {
  return {
    type: 'linear', min, max, display: show, offset: false,
    afterBuildTicks: s => { s.ticks = years.map(y => ({ value: (y - 2000) * 12 })); },
    ticks: { autoSkip: false, maxRotation: 0, padding: 2, color: '#000', font: { size: 10.5 },
      callback: v => String(Math.round(2000 + v / 12)) },
    grid: { drawOnChartArea: false, drawTicks: false, offset: false },
    border: { display: false },
    afterFit: s => { s.height = h; s.paddingLeft = 0; s.paddingRight = 0; }
  };
}
function yAxis(type, min, max, ticks, fmt) {
  return {
    type, position: 'right', min, max,
    afterBuildTicks: s => { s.ticks = ticks.map(v => ({ value: v })); },
    ticks: { autoSkip: false, padding: 2, color: '#000', font: { size: 10.5 }, callback: v => fmt(v) },
    grid: { drawOnChartArea: false, tickLength: 3, color: '#888' },
    border: { display: true, color: '#aaa' },
    afterFit: s => { s.width = 44; s.paddingTop = 0; s.paddingBottom = 0; }
  };
}
function base(x, y, padTop, padLeft) {
  return {
    responsive: false, devicePixelRatio: 1, animation: false, events: [],
    layout: { autoPadding: false, padding: { top: padTop, left: padLeft || 0, right: 0, bottom: 0 } },
    plugins: { legend: { display: false }, tooltip: { enabled: false } },
    scales: { x, y }
  };
}
function priceSets(hi, lo, cl, avg, emaStyle, bar, r) {
  return [
    Object.assign({ type: 'line', data: at(avg), pointRadius: 0, borderWidth: 1.2, order: 3 }, emaStyle),
    { type: 'bar', data: span(hi, lo), backgroundColor: '#000', barThickness: bar, order: 2 },
    { type: 'line', data: at(cl), showLine: false, pointStyle: 'line', pointRadius: r,
      pointBorderColor: '#000', pointBorderWidth: 1.2, order: 1 }
  ];
}
function rsiSet() {
  return [{ type: 'line', data: at(silverRsi), borderColor: '#222', borderWidth: 1, pointRadius: 0,
    fill: { target: { value: 70 }, above: '#6d8f6d', below: 'rgba(0,0,0,0)' } }];
}

const MAIN_X = [-7.15, 344.0];
const ZOOM_X = [274.5, 294.5];
const ZOOM_PAD = 10; // room left of the small panels for the "2023" label
const silverEmaStyle = { borderColor: '#3b3bcf', borderDash: [2, 2] };
const goldEmaStyle = { borderColor: '#2b2bb0' };
const dec1 = v => v.toFixed(1);
const plain = v => String(v);

// ---------- charts ----------
new Chart(document.getElementById('rsiMain'), {
  type: 'line',
  data: { datasets: rsiSet() },
  options: base(xAxis(MAIN_X[0], MAIN_X[1], yearTicks, 0, false), yAxis('linear', -3.5, 103.5, rsiTicks, plain), 0),
  plugins: [frame({ rsi: true }), notes(rsiNotes), caption([{ s: 'RSI(14) 62.48', c: '#000', dx: 15, dy: 7, icon: 'rsi' }])]
});
new Chart(document.getElementById('rsiZoom'), {
  type: 'line',
  data: { datasets: rsiSet() },
  options: base(xAxis(ZOOM_X[0], ZOOM_X[1], zoomYears, 0, false), yAxis('linear', -3.5, 103.5, rsiTicks, plain), 0, ZOOM_PAD),
  plugins: [frame({ rsi: true })]
});
new Chart(document.getElementById('silverMain'), {
  type: 'bar',
  data: { datasets: priceSets(silverHigh, silverLow, silverClose, silverEma, silverEmaStyle, 1.3, 1.8) },
  options: base(xAxis(MAIN_X[0], MAIN_X[1], yearTicks, 14, true), yAxis('logarithmic', 3.84, 51.8, silverTicks, dec1), 18),
  plugins: [frame({ months: true }), notes(silverNotes), caption([
    { s: '$SILVER (Monthly) 29.47', c: '#000', dx: 16, dy: 7, icon: 'bars' },
    { s: 'EMA(20) 24.86', c: '#2222bb', dx: 13, dy: 18, icon: 'dots' }])]
});
new Chart(document.getElementById('silverZoom'), {
  type: 'bar',
  data: { datasets: priceSets(silverHigh, silverLow, silverClose, silverEma, silverEmaStyle, 1.2, 2.6) },
  options: base(xAxis(ZOOM_X[0], ZOOM_X[1], zoomYears, 14, true), yAxis('logarithmic', 19.74, 33.06, silverZoomTicks, dec1), 0, ZOOM_PAD),
  plugins: [frame({ months: true })]
});
new Chart(document.getElementById('goldMain'), {
  type: 'bar',
  data: { datasets: priceSets(goldHigh, goldLow, goldClose, goldEma, goldEmaStyle, 1.3, 1.8) },
  options: base(xAxis(MAIN_X[0], MAIN_X[1], yearTicks, 16, true), yAxis('logarithmic', 243.2, 2528, goldTicks, plain), 47),
  plugins: [frame({ months: true }), notes(goldNotes), caption([
    { s: '$GOLD 2349.10', c: '#000', dx: 16, dy: 7, icon: 'bars' },
    { s: 'EMA(20) 2067.36', c: '#2222bb', dx: 13, dy: 18, icon: 'solid' }])]
});
new Chart(document.getElementById('goldZoom'), {
  type: 'bar',
  data: { datasets: priceSets(goldHigh, goldLow, goldClose, goldEma, goldEmaStyle, 1.2, 2.6) },
  options: base(xAxis(ZOOM_X[0], ZOOM_X[1], zoomYears, 16, true), yAxis('logarithmic', 1767.9, 2467.7, goldZoomTicks, plain), 0, ZOOM_PAD),
  plugins: [frame({ months: true })]
});
</script>
</body>
</html>
